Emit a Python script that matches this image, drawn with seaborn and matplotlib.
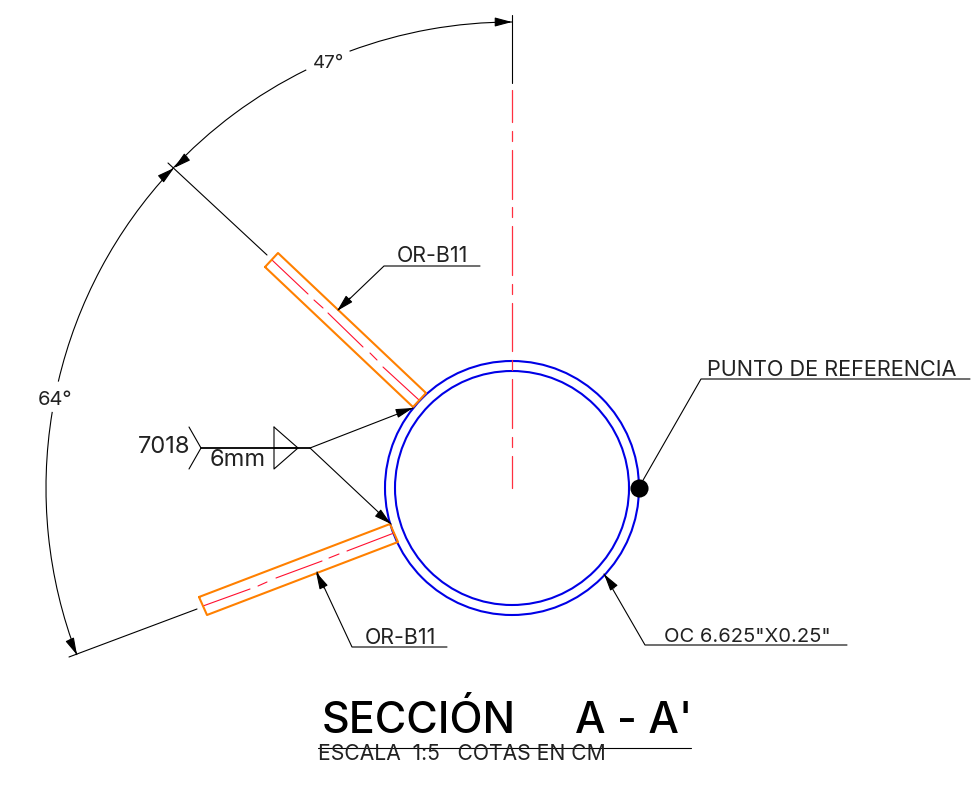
import matplotlib
matplotlib.use('Agg')
import matplotlib.pyplot as plt
from matplotlib.patches import Arc, Circle
import seaborn as sns

center_x = 512
center_y = 488
ring_radii = [127, 117]
dim_radius = 466
dim_arcs = [(249.6, 270), (223, 243.8), (193.2, 223), (159, 189.4)]

upper_plate_x = [265, 278, 426, 413, 265]
upper_plate_y = [267, 253, 393, 407, 267]
lower_plate_x = [199, 207, 398, 390, 199]
lower_plate_y = [597, 615, 542, 524, 597]

axis_dashes = [(90, 122), (131, 141), (150, 199), (207, 217), (226, 275), (284, 294),
               (303, 351), (360, 370), (379, 428), (437, 447), (456, 488)]
upper_dashes = [((272, 260), (308, 294)), ((314, 300), (323, 308)), ((328, 313), (363, 347)),
                ((370, 353), (377, 360)), ((383, 367), (419, 400))]
lower_dashes = [((203, 606), (250, 589)), ((258, 586), (267, 582)), ((276, 578), (322, 561)),
                ((329, 558), (339, 554)), ((347, 551), (394, 533))]

black_lines = [
    ([512, 512], [15, 83]),
    ([168, 267], [163, 255]),
    ([69, 197], [657, 609]),
    ([338, 384, 480], [310, 266, 266]),
    ([317, 352, 447], [572, 647, 647]),
    ([642, 701, 970], [482, 379, 379]),
    ([604, 645, 847], [574, 645, 645]),
    ([189, 201, 189], [427, 448, 469]),
    ([274, 298, 274, 274], [448, 448, 469, 427]),
    ([274, 298], [427, 448]),
    ([413, 310, 391], [408, 448, 524]),
    ([318, 691], [748, 748]),
]
weld_line_x = [201, 310]
weld_line_y = [448, 448]

arrow_tips = [(512, 22), (174, 168), (174, 168), (77, 655), (337, 311),
              (316, 572), (413, 408), (391, 524), (604, 574)]
arrow_bases = [(496, 22), (187, 157), (162, 178), (70, 640), (350, 298),
               (324, 588), (398, 413), (378, 513), (614, 588)]

labels = ['47°', '64°', '7018', '6mm', 'OR-B11', 'OR-B11', 'PUNTO DE REFERENCIA', 'OC 6.625"X0.25"']
label_x = [313, 38, 138, 210, 397, 365, 707, 664]
label_y = [68, 405, 453, 466, 262, 644, 376, 642]
label_size = [13.5, 14.5, 17, 17, 15.4, 15.4, 15.6, 14.5]

dot_x = [638.5]
dot_y = [488]

sns.set_theme(style='white')
plt.rcParams['font.family'] = ['Inter', 'DejaVu Sans']

fig = plt.figure(figsize=(9.71, 7.86), dpi=100)
ax = fig.add_axes([0, 0, 1, 1])
ax.set_xlim(0, 971)
ax.set_ylim(786, 0)
ax.axis('off')


def draw(x, y, color='black', lw=0.8):
    sns.lineplot(x=x, y=y, sort=False, estimator=None, color=color, linewidth=lw, ax=ax)


for r in ring_radii:
    ax.add_patch(Circle((center_x, center_y), r, fill=False, edgecolor='#0000e6', lw=1.5))
for a, b in dim_arcs:
    ax.add_patch(Arc((center_x, center_y), dim_radius * 2, dim_radius * 2, theta1=a, theta2=b,
                     color='black', lw=0.8))

for y0, y1 in axis_dashes:
    draw([center_x, center_x], [y0, y1], color='#ff3040', lw=0.9)
for p0, p1 in upper_dashes + lower_dashes:
    draw([p0[0], p1[0]], [p0[1], p1[1]], color='#ff1030', lw=0.8)

draw(upper_plate_x, upper_plate_y, color='#ff8000', lw=1.5)
draw(lower_plate_x, lower_plate_y, color='#ff8000', lw=1.5)

for x, y in black_lines:
    draw(x, y)
draw(weld_line_x, weld_line_y, lw=1.3)

for tip, base in zip(arrow_tips, arrow_bases):
    ax.annotate('', xy=tip, xytext=base,
                arrowprops=dict(arrowstyle='-|>,head_length=10.5,head_width=2.8', mutation_scale=1,
                                shrinkA=0, shrinkB=0, color='black', lw=0.8))

sns.scatterplot(x=dot_x, y=dot_y, color='black', s=170, linewidth=0, ax=ax, zorder=5)

for t, x, y, s in zip(labels, label_x, label_y, label_size):
    ax.text(x, y, t, fontsize=s, color='#222222', va='baseline', ha='left')

ax.text(322, 733, 'SECCIÓN', fontsize=31, color='black', va='baseline', ha='left', fontweight='medium')
ax.text(575, 733, "A - A'", fontsize=31, color='black', va='baseline', ha='left', fontweight='medium')
ax.text(318, 760, 'ESCALA  1:5   COTAS EN CM', fontsize=15.2, color='#222222', va='baseline', ha='left')

fig.savefig('out.png', dpi=100)
